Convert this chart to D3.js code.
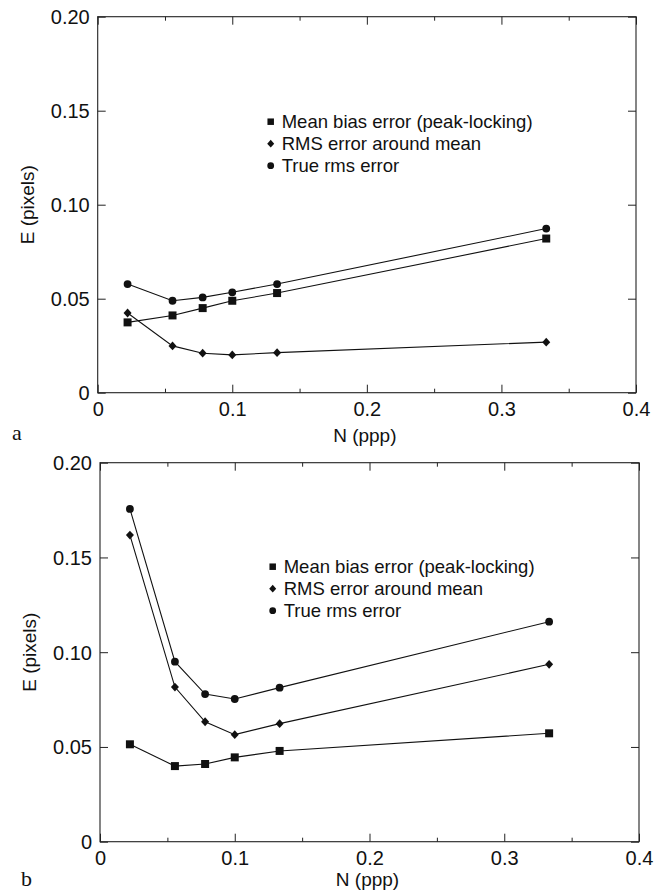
<!DOCTYPE html>
<html>
<head>
<meta charset="utf-8">
<script src="https://cdn.jsdelivr.net/npm/d3@7"></script>
<style>
  html, body { margin: 0; padding: 0; background: #fff; }
  svg { display: block; }
</style>
</head>
<body>
<svg id="chart" width="655" height="890"></svg>
<script>
// ---- data ----
const nValues = [0.0222, 0.0556, 0.078, 0.1, 0.1333, 0.3333];
const seriesNames = ["Mean bias error (peak-locking)", "RMS error around mean", "True rms error"];
const seriesMarkers = ["square", "diamond", "circle"];

const biasA = [0.0374, 0.0411, 0.0450, 0.0489, 0.0530, 0.0820];
const rmsA  = [0.0424, 0.0249, 0.0210, 0.0201, 0.0213, 0.0269];
const trueA = [0.0578, 0.0489, 0.0507, 0.0534, 0.0578, 0.0873];

const biasB = [0.0514, 0.0399, 0.0410, 0.0445, 0.0479, 0.0572];
const rmsB  = [0.1618, 0.0816, 0.0633, 0.0565, 0.0623, 0.0936];
const trueB = [0.1756, 0.0950, 0.0779, 0.0753, 0.0813, 0.1161];

const xTicks = [0, 0.1, 0.2, 0.3, 0.4];
const xMinorTicks = [0.05, 0.15, 0.25, 0.35];
const yTicks = [0, 0.05, 0.10, 0.15, 0.20];
const yTickLabels = ["0", "0.05", "0.10", "0.15", "0.20"];
const xTickLabels = ["0", "0.1", "0.2", "0.3", "0.4"];
const xTitle = "N (ppp)";
const yTitle = "E (pixels)";
const panelLetters = ["a", "b"];

// ---- layout ----
const panels = [
  { letter: panelLetters[0], series: [biasA, rmsA, trueA],
    left: 97.7, right: 636, top: 16.7, bottom: 392.7,
    legendX: 270.7, legendY: 121.7, legendGap: 22,
    xTitleY: 435, yTitleX: 27, letterX: 12, letterY: 440 },
  { letter: panelLetters[1], series: [biasB, rmsB, trueB],
    left: 100, right: 639, top: 462.7, bottom: 841.7,
    legendX: 272.7, legendY: 566.7, legendGap: 22,
    xTitleY: 879, yTitleX: 29, letterX: 21, letterY: 886 }
];

const svg = d3.select("#chart");
const FONT = "'Liberation Sans', Arial, Helvetica, sans-serif";
const INK = "#111";

function markerPath(type, s) {
  const p = d3.path();
  if (type === "square") {
    p.rect(-s / 2, -s / 2, s, s);
  } else if (type === "diamond") {
    const w = s * 0.5, h = s * 0.55;
    p.moveTo(0, -h); p.lineTo(w, 0); p.lineTo(0, h); p.lineTo(-w, 0); p.closePath();
  } else {
    p.arc(0, 0, s / 2, 0, Math.PI * 2);
  }
  return p.toString();
}
const markerSize = { square: 8, diamond: 8, circle: 7.8 };
const legendMarkerSize = { square: 6.5, diamond: 7, circle: 6.8 };

panels.forEach(P => {
  const x = d3.scaleLinear().domain([0, 0.4]).range([P.left, P.right]);
  const y = d3.scaleLinear().domain([0, 0.2]).range([P.bottom, P.top]);
  const g = svg.append("g");

  // frame
  g.append("rect")
    .attr("x", P.left).attr("y", P.top)
    .attr("width", P.right - P.left).attr("height", P.bottom - P.top)
    .attr("fill", "none").attr("stroke", "#222").attr("stroke-width", 1.1);

  // axes with inward ticks
  const axB = d3.axisBottom(x).tickValues(xTicks).tickSize(-8).tickFormat((d, i) => xTickLabels[i]);
  const axT = d3.axisTop(x).tickValues(xTicks).tickSize(-8).tickFormat("");
  const axBm = d3.axisBottom(x).tickValues(xMinorTicks).tickSize(-4).tickFormat("");
  const axTm = d3.axisTop(x).tickValues(xMinorTicks).tickSize(-4).tickFormat("");
  const axL = d3.axisLeft(y).tickValues(yTicks).tickSize(-8).tickFormat((d, i) => yTickLabels[i]);
  const axR = d3.axisRight(y).tickValues(yTicks).tickSize(-8).tickFormat("");

  const gB = g.append("g").attr("transform", `translate(0,${P.bottom})`).call(axB);
  g.append("g").attr("transform", `translate(0,${P.top})`).call(axT);
  g.append("g").attr("transform", `translate(0,${P.bottom})`).call(axBm);
  g.append("g").attr("transform", `translate(0,${P.top})`).call(axTm);
  const gL = g.append("g").attr("transform", `translate(${P.left},0)`).call(axL);
  g.append("g").attr("transform", `translate(${P.right},0)`).call(axR);

  g.selectAll(".domain").remove();
  g.selectAll(".tick line").attr("stroke", "#222").attr("stroke-width", 1);
  gB.selectAll(".tick text")
    .attr("font-family", FONT).attr("font-size", 20).attr("fill", INK)
    .attr("y", 23.5).attr("dy", null);
  gL.selectAll(".tick text")
    .attr("font-family", FONT).attr("font-size", 20).attr("fill", INK)
    .attr("x", -8).attr("dy", "0.35em");

  // series lines + markers
  const line = d3.line().x((d, i) => x(nValues[i])).y(d => y(d));
  P.series.forEach((vals, si) => {
    g.append("path").datum(vals)
      .attr("d", line).attr("fill", "none")
      .attr("stroke", INK).attr("stroke-width", 1.1);
    const type = seriesMarkers[si];
    g.selectAll(null).data(vals).enter().append("path")
      .attr("transform", (d, i) => `translate(${x(nValues[i])},${y(d)})`)
      .attr("d", markerPath(type, markerSize[type]))
      .attr("fill", INK);
  });

  // legend
  seriesNames.forEach((name, si) => {
    const type = seriesMarkers[si];
    const ly = P.legendY + si * P.legendGap;
    g.append("path")
      .attr("transform", `translate(${P.legendX},${ly})`)
      .attr("d", markerPath(type, legendMarkerSize[type]))
      .attr("fill", INK);
    g.append("text")
      .attr("x", P.legendX + 11).attr("y", ly).attr("dy", "0.36em")
      .attr("font-family", FONT).attr("font-size", 18.5).attr("fill", INK)
      .text(name);
  });

  // axis titles
  g.append("text")
    .attr("x", x(0.2) - 2).attr("y", P.xTitleY).attr("dy", "0.36em")
    .attr("text-anchor", "middle")
    .attr("font-family", FONT).attr("font-size", 19).attr("fill", INK)
    .text(xTitle);
  const yc = (P.top + P.bottom) / 2;
  g.append("text")
    .attr("transform", `translate(${P.yTitleX},${yc}) rotate(-90)`)
    .attr("dy", "0.36em").attr("text-anchor", "middle")
    .attr("font-family", FONT).attr("font-size", 19).attr("fill", INK)
    .text(yTitle);

  // panel letter
  g.append("text")
    .attr("x", P.letterX).attr("y", P.letterY)
    .attr("font-family", "'Liberation Serif', 'Times New Roman', serif")
    .attr("font-size", 22).attr("fill", INK)
    .text(P.letter);
});
</script>
</body>
</html>
